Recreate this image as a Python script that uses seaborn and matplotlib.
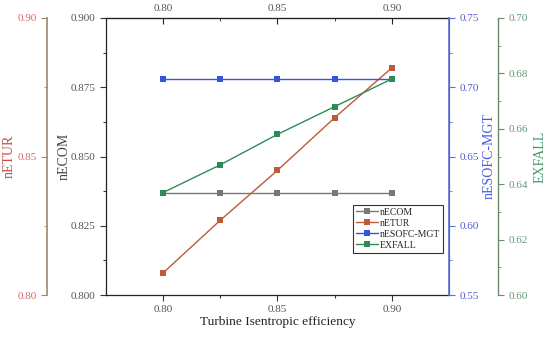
import matplotlib
matplotlib.use("Agg")
import matplotlib.pyplot as plt
import seaborn as sns
import pandas as pd
from matplotlib.lines import Line2D

eff = [0.800, 0.825, 0.850, 0.875, 0.900]
necom = [0.837, 0.837, 0.837, 0.837, 0.837]
netur = [0.808, 0.827, 0.845, 0.864, 0.882]
nesofc = [0.706, 0.706, 0.706, 0.706, 0.706]
exfall = [0.637, 0.647, 0.658, 0.668, 0.678]

sns.set_style("ticks")
plt.rcParams['font.family'] = ['Liberation Serif', 'DejaVu Serif']

c_ecom = '#777777'
c_etur = '#bd5a3a'
c_esofc = '#3355e0'
c_ex = '#2f8a5a'

df = pd.DataFrame({'eff': eff, 'nECOM': necom, 'nETUR': netur,
                   'nESOFC-MGT': nesofc, 'EXFALL': exfall})

fig = plt.figure(figsize=(5.5, 3.37), dpi=100)
ax = fig.add_axes([0.1927, 0.1246, 0.6236, 0.822])
ax_t = ax.twinx()
ax_b = ax.twinx()
ax_g = ax.twinx()

kw = dict(marker='s', markersize=4.5, linewidth=1.0, markeredgewidth=0)
sns.lineplot(data=df, x='eff', y='nECOM', ax=ax, color=c_ecom, **kw)
sns.lineplot(data=df, x='eff', y='nETUR', ax=ax_t, color=c_etur, **kw)
sns.lineplot(data=df, x='eff', y='nESOFC-MGT', ax=ax_b, color=c_esofc, **kw)
sns.lineplot(data=df, x='eff', y='EXFALL', ax=ax_g, color=c_ex, **kw)

ax.set_xlim(0.775, 0.925)
ax.set_ylim(0.800, 0.900)
ax_t.set_ylim(0.80, 0.90)
ax_b.set_ylim(0.55, 0.75)
ax_g.set_ylim(0.60, 0.70)

ax.set_xticks([0.80, 0.85, 0.90])
ax.set_xticks([0.825, 0.875], minor=True)
ax.set_xticklabels(['0.80', '0.85', '0.90'])
ax.set_yticks([0.800, 0.825, 0.850, 0.875, 0.900])
ax.set_yticks([0.8125, 0.8375, 0.8625, 0.8875], minor=True)
ax.set_yticklabels(['0.800', '0.825', '0.850', '0.875', '0.900'])

tick_col = '#555555'
fs = 8
ax.tick_params(axis='both', which='major', labelsize=fs, colors='#333333', labelcolor=tick_col, length=4, width=0.8)
ax.tick_params(axis='both', which='minor', length=2.5, width=0.8, colors='#333333')
ax.set_xlabel('Turbine Isentropic efficiency', fontsize=9.6, color='#222222', labelpad=1)
ax.set_ylabel('nECOM', fontsize=10, color='#444444', labelpad=0)
for s in ['left', 'bottom', 'top']:
    ax.spines[s].set_color('#222222')
    ax.spines[s].set_linewidth(0.9)

# top axis
top = ax.secondary_xaxis('top')
top.set_xticks([0.80, 0.85, 0.90])
top.set_xticks([0.825, 0.875], minor=True)
top.set_xticklabels(['0.80', '0.85', '0.90'])
top.tick_params(which='major', direction='in', length=4, labelsize=fs, labelcolor=tick_col, colors='#222222')
top.tick_params(which='minor', direction='in', length=2.5, colors='#222222')

# nETUR axis on left, offset
ax_t.yaxis.set_label_position('left')
ax_t.yaxis.set_ticks_position('left')
ax_t.spines['left'].set_position(('axes', -0.172))
ax_t.spines['left'].set_visible(True)
for s in ['right', 'top', 'bottom']:
    ax_t.spines[s].set_visible(False)
ax_t.spines['left'].set_color('#a08868')
ax_t.spines['left'].set_linewidth(1.2)
ax_t.set_yticks([0.80, 0.85, 0.90])
ax_t.set_yticks([0.825, 0.875], minor=True)
ax_t.set_yticklabels(['0.80', '0.85', '0.90'])
ax_t.tick_params(axis='y', which='major', colors='#a08868', labelcolor='#d46a6a', labelsize=fs, length=4)
ax_t.tick_params(axis='y', which='minor', colors='#a08868', length=2.5)
ax_t.set_ylabel('nETUR', fontsize=10, color='#c0504d', labelpad=1)

# blue axis on right
for s in ['left', 'top', 'bottom']:
    ax_b.spines[s].set_visible(False)
ax_b.spines['right'].set_color('#5a6fd8')
ax_b.spines['right'].set_linewidth(1.2)
ax_b.set_yticks([0.55, 0.60, 0.65, 0.70, 0.75])
ax_b.set_yticks([0.575, 0.625, 0.675, 0.725], minor=True)
ax_b.set_yticklabels(['0.55', '0.60', '0.65', '0.70', '0.75'])
ax_b.tick_params(axis='y', which='major', colors='#5a6fd8', labelcolor='#5a5ad0', labelsize=fs, length=4)
ax_b.tick_params(axis='y', which='minor', colors='#5a6fd8', length=2.5)
ax_b.set_ylabel('nESOFC-MGT', fontsize=10, color='#4a5ae0', labelpad=3)

# green axis
for s in ['left', 'top', 'bottom']:
    ax_g.spines[s].set_visible(False)
ax_g.spines['right'].set_position(('axes', 1.143))
ax_g.spines['right'].set_color('#6a8a70')
ax_g.spines['right'].set_linewidth(1.0)
ax_g.set_yticks([0.60, 0.62, 0.64, 0.66, 0.68, 0.70])
ax_g.set_yticks([0.61, 0.63, 0.65, 0.67, 0.69], minor=True)
ax_g.set_yticklabels(['0.60', '0.62', '0.64', '0.66', '0.68', '0.70'])
ax_g.tick_params(axis='y', which='major', colors='#6a8a70', labelcolor='#5f9a78', labelsize=fs, length=4)
ax_g.tick_params(axis='y', which='minor', colors='#6a8a70', length=2.5)
ax_g.set_ylabel('EXFALL', fontsize=10, color='#3f9a6a', labelpad=4)

for a in [ax_t, ax_b, ax_g]:
    a.set_xlabel('')

handles = [Line2D([], [], color=c, marker='s', markersize=4.5, linewidth=1.0, markeredgewidth=0)
           for c in [c_ecom, c_etur, c_esofc, c_ex]]
leg = ax_g.legend(handles, ['nECOM', 'nETUR', 'nESOFC-MGT', 'EXFALL'],
                  loc='upper left', bbox_to_anchor=(0.721, 0.325), fontsize=7,
                  frameon=True, fancybox=False, edgecolor='#333333', framealpha=1,
                  borderpad=0.3, labelspacing=0.2, handlelength=2.2, handletextpad=0.2,
                  borderaxespad=0)
leg.get_frame().set_linewidth(0.8)

fig.savefig('out.png', dpi=100)
